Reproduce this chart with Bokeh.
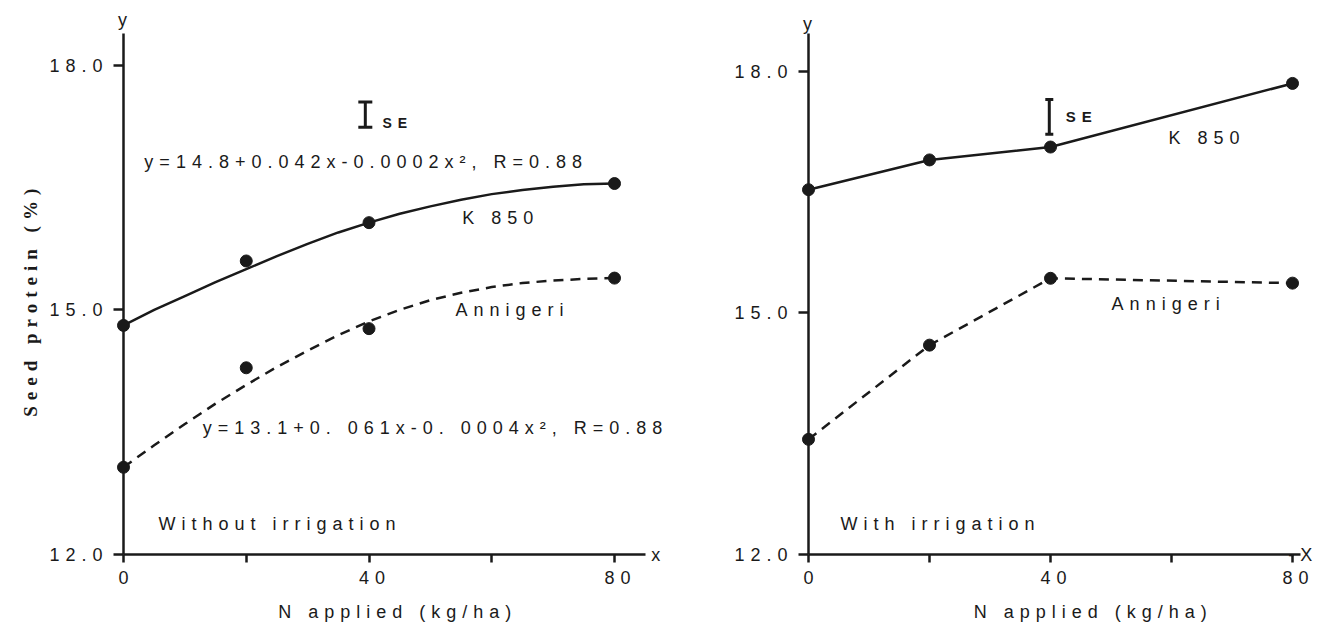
import math
from bokeh.plotting import figure
from bokeh.layouts import row
from bokeh.core.properties import value
from bokeh.models import (FixedTicker, PrintfTickFormatter, Whisker,
                          ColumnDataSource, TeeHead, Range1d)
from bokeh.embed import file_html
from bokeh.resources import INLINE

# ---------------- data ----------------
n_levels = [0, 20, 40, 80]                       # N applied (kg/ha)
fit_x = [0, 5, 10, 15, 20, 25, 30, 35, 40, 45, 50, 55, 60, 65, 70, 75, 80]

# Without irrigation
left_k850 = [14.81, 15.60, 16.07, 16.55]
left_annigeri = [13.07, 14.29, 14.77, 15.39]
left_k850_fit = [14.81, 15.00, 15.17, 15.34, 15.50, 15.66, 15.81, 15.95, 16.07,
                 16.18, 16.27, 16.35, 16.42, 16.47, 16.51, 16.54, 16.55]
left_annigeri_fit = [13.07, 13.34, 13.60, 13.85, 14.08, 14.30, 14.50, 14.69, 14.86,
                     15.00, 15.12, 15.21, 15.28, 15.33, 15.36, 15.38, 15.39]
left_se_x = [39.4]
left_se_lower = [17.24]
left_se_upper = [17.55]

# With irrigation
right_k850 = [16.53, 16.90, 17.06, 17.85]
right_annigeri = [13.43, 14.60, 15.43, 15.37]
right_se_x = [39.8]
right_se_lower = [17.22]
right_se_upper = [17.65]

x_ticks = [0, 40, 80]
x_minor_ticks = [20, 60]
y_ticks = [12, 15, 18]

eq_k850 = "y=14.8+0.042x-0.0002x\u00b2,  R=0.88"
eq_annigeri = "y=13.1+0. 061x-0. 0004x\u00b2,  R=0.88"

FONT = "Liberation Sans"
INK = "#1a1a1a"
FS = "18px"


def make_fig(width, bl, br, bt, bb, x_end, y_end):
    p = figure(width=width, height=624,
               x_range=Range1d(0, x_end), y_range=Range1d(12, y_end),
               output_backend="svg", toolbar_location=None,
               min_border_left=bl, min_border_right=br,
               min_border_top=bt, min_border_bottom=bb,
               styles={"letter-spacing": "6px"})
    p.grid.visible = False
    p.outline_line_color = None
    p.background_fill_color = "white"
    p.border_fill_color = "white"

    xa = p.xaxis[0]
    xa.ticker = FixedTicker(ticks=x_ticks, minor_ticks=x_minor_ticks)
    xa.axis_line_width = 2.5
    xa.axis_line_color = INK
    xa.major_tick_line_width = 2.5
    xa.minor_tick_line_width = 2.5
    xa.major_tick_line_color = INK
    xa.minor_tick_line_color = INK
    xa.major_tick_out = 8
    xa.major_tick_in = 0
    xa.minor_tick_out = 8
    xa.minor_tick_in = 0
    xa.major_label_text_font = FONT
    xa.major_label_text_font_size = FS
    xa.major_label_text_color = INK
    xa.major_label_standoff = 8

    ya = p.yaxis[0]
    ya.ticker = FixedTicker(ticks=y_ticks, minor_ticks=[])
    ya.formatter = PrintfTickFormatter(format="%.1f")
    ya.axis_line_width = 2.5
    ya.axis_line_color = INK
    ya.major_tick_line_width = 2.5
    ya.major_tick_line_color = INK
    ya.major_tick_out = 10
    ya.major_tick_in = 0
    ya.minor_tick_out = 0
    ya.minor_tick_in = 0
    ya.major_label_text_font = FONT
    ya.major_label_text_font_size = FS
    ya.major_label_text_color = INK
    ya.major_label_standoff = 29
    return p


def label(p, x, y, text, size=FS, bold=False, font=FONT, angle=0.0):
    p.text(x=[x], y=[y], text=[text], text_font=value(font),
           text_font_size=value(size), text_color=INK,
           text_font_style=value("bold" if bold else "normal"),
           text_align="left", text_baseline="middle",
           angle=angle, level="overlay")


def se_bar(p, xs, lo, hi, head):
    src = ColumnDataSource(dict(x=xs, lower=lo, upper=hi))
    p.add_layout(Whisker(source=src, base="x", lower="lower", upper="upper",
                         dimension="height", line_width=3, line_color=INK,
                         upper_head=TeeHead(size=head, line_width=3, line_color=INK),
                         lower_head=TeeHead(size=head, line_width=3, line_color=INK)))


# ---------------- left panel: without irrigation ----------------
p1 = make_fig(668, 123, 23, 33, 70, 85.05, 18.39)
p1.line(fit_x, left_k850_fit, line_width=2.5, line_color=INK)
p1.line(fit_x, left_annigeri_fit, line_width=2.5, line_color=INK, line_dash="10 7")
p1.scatter(n_levels, left_k850, size=12, color=INK, level="overlay")
p1.scatter(n_levels, left_annigeri, size=12, color=INK, level="overlay")
se_bar(p1, left_se_x, left_se_lower, left_se_upper, 14)

label(p1, 42.2, 17.29, "SE", size="14px", bold=True)
label(p1, 3.4, 16.81, eq_k850)
label(p1, 55.2, 16.13, "K 850")
label(p1, 54.1, 15.00, "Annigeri")
label(p1, 12.9, 13.55, eq_annigeri)
label(p1, 5.7, 12.38, "Without irrigation")
label(p1, 25.2, 11.29, "N applied (kg/ha)")
label(p1, 86.0, 11.99, "x")
label(p1, -0.9, 18.55, "y")
label(p1, -15.1, 13.69, "Seed protein (%)", size="19px", bold=True,
      font="Liberation Serif", angle=math.pi / 2)

# ---------------- right panel: with irrigation ----------------
p2 = make_fig(654, 140, 22, 30, 70, 81.32, 18.47)
p2.line(n_levels, right_k850, line_width=2.5, line_color=INK)
p2.line(n_levels, right_annigeri, line_width=2.5, line_color=INK, line_dash="10 7")
p2.scatter(n_levels, right_k850, size=12, color=INK, level="overlay")
p2.scatter(n_levels, right_annigeri, size=12, color=INK, level="overlay")
se_bar(p2, right_se_x, right_se_lower, right_se_upper, 8)

label(p2, 42.5, 17.44, "SE", size="15px", bold=True)
label(p2, 59.5, 17.17, "K 850")
label(p2, 50.1, 15.11, "Annigeri")
label(p2, 5.3, 12.38, "With irrigation")
label(p2, 27.3, 11.28, "N applied (kg/ha)")
label(p2, 79.3, 11.99, "-X")
label(p2, -0.9, 18.59, "y")

layout = row(p1, p2)
open("out.html", "w").write(file_html(layout, INLINE))
